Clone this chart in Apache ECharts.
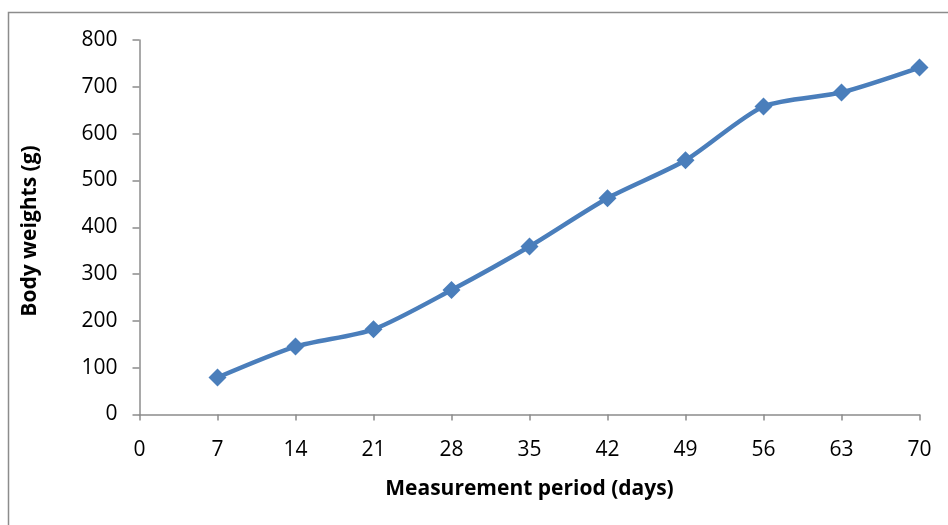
<!DOCTYPE html>
<html><head><meta charset="utf-8">
<script src="https://cdn.jsdelivr.net/npm/echarts@6/dist/echarts.min.js"></script>
<style>html,body{margin:0;padding:0;background:#fff}#c{width:948px;height:525px}</style>
</head><body><div id="c"></div>
<script>
const days = [7, 14, 21, 28, 35, 42, 49, 56, 63, 70];
const weights = [79, 145, 182, 266, 359, 462, 543, 658, 688, 741];
const xTitle = 'Measurement period (days)';
const yTitle = 'Body weights (g)';

const chart = echarts.init(document.getElementById('c'));
const F = '"Open Sans", "Noto Sans", sans-serif';
chart.setOption({
  animation: false,
  graphic: [{
    type: 'rect', shape: {x: 8.5, y: 12.5, width: 1000, height: 1000},
    style: {fill: 'none', stroke: '#8c8c8c', lineWidth: 1.5}, z: -1
  }, {
    type: 'text', rotation: Math.PI/2,
    style: {text: yTitle, font: 'bold 21px ' + F, fill: '#000', align: 'center', verticalAlign: 'middle'},
    x: 30, y: 231
  }],
  grid: {left: 139.5, right: 28.5, top: 40, bottom: 110.5},
  xAxis: {
    type: 'value', min: 0, max: 70, interval: 7,
    name: xTitle, nameLocation: 'middle', nameGap: 64,
    nameTextStyle: {fontFamily: F, fontWeight: 'bold', fontSize: 21, color: '#000'},
    axisLine: {lineStyle: {color: '#8c8c8c', width: 1.5}},
    axisTick: {show: true, length: 6, inside: false, lineStyle: {color: '#8c8c8c', width: 1.5}},
    axisLabel: {fontFamily: F, fontSize: 21, color: '#000', margin: 25},
    splitLine: {show: false}
  },
  yAxis: {
    type: 'value', min: 0, max: 800, interval: 100,
    axisLine: {show: true, lineStyle: {color: '#8c8c8c', width: 1.5}},
    axisTick: {show: true, length: 7, lineStyle: {color: '#8c8c8c', width: 1.5}},
    axisLabel: {fontFamily: F, fontSize: 21, color: '#000', margin: 22},
    splitLine: {show: false}
  },
  series: [{
    type: 'line',
    data: days.map((d, i) => [d, weights[i]]),
    smooth: 0.25,
    symbol: 'diamond', symbolSize: 18,
    lineStyle: {color: '#4A7EBB', width: 4.5},
    itemStyle: {color: '#4A7EBB'}
  }]
});
</script></body></html>
